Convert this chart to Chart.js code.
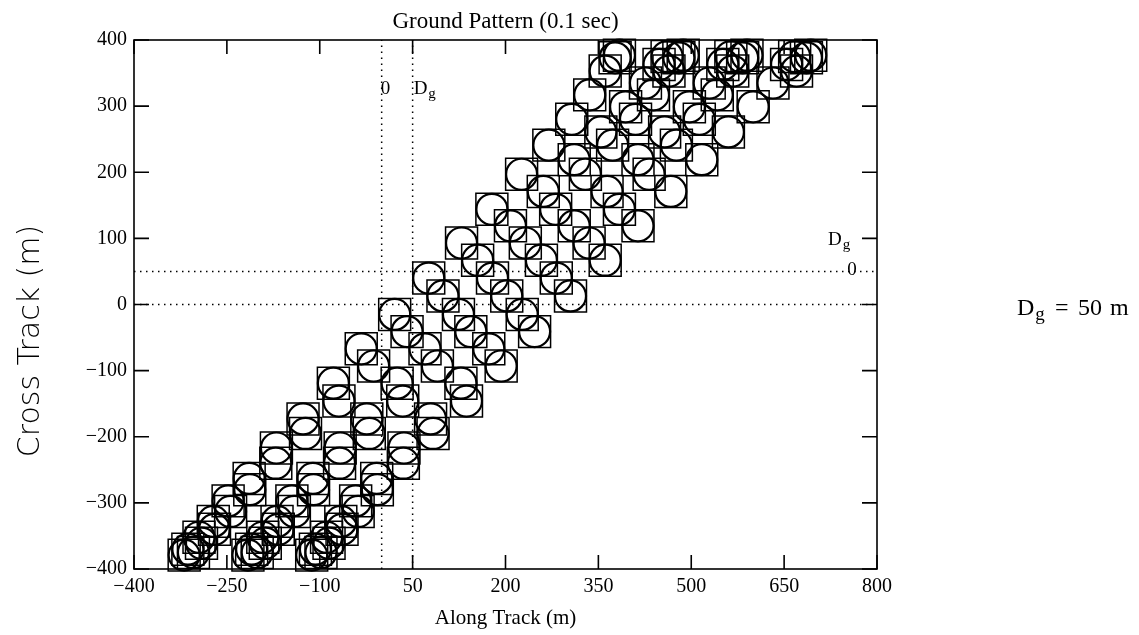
<!DOCTYPE html>
<html>
<head>
<meta charset="utf-8">
<title>Ground Pattern (0.1 sec)</title>
<script src="https://cdn.jsdelivr.net/npm/chart.js@4.4.0/dist/chart.umd.min.js"></script>
<style>
  html, body { margin: 0; padding: 0; background: #fff; }
  canvas { display: block; }
</style>
</head>
<body>
<canvas id="groundChart" width="1139" height="635"></canvas>
<script>
// footprint centres, metres
// main footprints of each scan line share the same cross-track rows
const rowY = [-379, -370, -352, -328, -297, -263, -217, -173, -119, -67, -15, 40, 93, 144, 197, 241, 280, 317, 353, 373, 377];
const line1X = [-319, -313, -295, -272, -248, -214, -170, -127, -78, -33, 21, 76, 129, 178, 226, 270, 307, 336, 361, 377, 384];
const line2X = [-216, -210, -192, -169, -145, -111, -67, -24, 25, 70, 124, 179, 232, 281, 329, 373, 410, 439, 464, 480, 487];
const line3X = [-113, -107, -89, -66, -42, -8, 36, 79, 128, 173, 227, 282, 335, 384, 432, 476, 513, 542, 567, 583, 590];

// offset (second) footprints sit half a row lower
const secY = [-375, -361, -340, -313, -280, -240, -195, -146, -93, -41, 13, 67, 119, 171, 219, 261, 299, 335, 363, 375];
const line1SecX = [-304, -291, -270, -244, -213, -171, -123, -69, -13, 41, 99, 155, 208, 261, 311, 354, 394, 426, 448, 461];
const line2SecX = [-201, -188, -167, -141, -110, -68, -20, 34, 90, 144, 202, 258, 311, 364, 414, 457, 497, 529, 551, 564];
const line3SecX = [-98, -85, -64, -38, -7, 35, 83, 137, 193, 247, 305, 361, 414, 467, 517, 560, 600, 632, 654, 667];

// last scan line, only its top end is inside the 0.1 s window
const line4X = [670, 686, 693];
const line4Y = [353, 373, 377];

const xTicks = [-400, -250, -100, 50, 200, 350, 500, 650, 800];
const yTicks = [-400, -300, -200, -100, 0, 100, 200, 300, 400];
const markX = [0, 50];
const markY = [0, 50];

const SERIF = 'Liberation Serif, Times New Roman, serif';

function pairUp(xs, ys) {
  return xs.map((x, i) => ({ x: x, y: ys[i] }));
}

function minusLabel(v) {
  return v < 0 ? '\u2212' + Math.abs(v) : String(v);
}

const footprints = [].concat(
  pairUp(line1X, rowY),
  pairUp(line2X, rowY),
  pairUp(line3X, rowY),
  pairUp(line1SecX, secY),
  pairUp(line2SecX, secY),
  pairUp(line3SecX, secY),
  pairUp(line4X, line4Y)
);

function dottedLine(points) {
  return {
    data: points,
    showLine: true,
    borderColor: '#000',
    borderWidth: 1.5,
    borderDash: [1.5, 4.5],
    pointRadius: 0,
    fill: false
  };
}

function drawDg(ctx, x, y, size) {
  ctx.font = size + 'px ' + SERIF;
  ctx.fillText('D', x, y);
  const w = ctx.measureText('D').width;
  ctx.font = Math.round(size * 0.8) + 'px ' + SERIF;
  ctx.fillText('g', x + w + 1, y + size * 0.22);
}

const decorations = {
  id: 'decorations',
  afterDatasetsDraw(chart) {
    const { ctx, chartArea: a, scales } = chart;
    const xs = scales.x, ys = scales.y;
    ctx.save();
    ctx.strokeStyle = '#000';
    ctx.fillStyle = '#000';
    ctx.lineWidth = 1.6;
    ctx.strokeRect(a.left, a.top, a.right - a.left, a.bottom - a.top);

    // inward tick marks on all four sides
    ctx.beginPath();
    xTicks.forEach(v => {
      const px = xs.getPixelForValue(v);
      ctx.moveTo(px, a.top); ctx.lineTo(px, a.top + 14);
      ctx.moveTo(px, a.bottom); ctx.lineTo(px, a.bottom - 14);
    });
    yTicks.forEach(v => {
      const py = ys.getPixelForValue(v);
      ctx.moveTo(a.left, py); ctx.lineTo(a.left + 15, py);
      ctx.moveTo(a.right, py); ctx.lineTo(a.right - 15, py);
    });
    ctx.stroke();

    // labels of the dotted reference lines
    ctx.textAlign = 'left';
    ctx.textBaseline = 'alphabetic';
    ctx.font = '19px ' + SERIF;
    ctx.fillText('0', xs.getPixelForValue(0) - 1, ys.getPixelForValue(318));
    drawDg(ctx, xs.getPixelForValue(50) + 1, ys.getPixelForValue(318), 19);
    drawDg(ctx, xs.getPixelForValue(721), ys.getPixelForValue(90), 19);
    ctx.font = '19px ' + SERIF;
    ctx.fillText('0', xs.getPixelForValue(752), ys.getPixelForValue(44));

    // title
    ctx.textAlign = 'center';
    ctx.font = '23px ' + SERIF;
    ctx.fillText('Ground Pattern (0.1 sec)', (a.left + a.right) / 2, 28);

    // note on the right
    ctx.textAlign = 'left';
    drawDg(ctx, 1017, 315, 24);
    ctx.font = '24px ' + SERIF;
    ctx.fillText('=', 1055, 315);
    ctx.fillText('50', 1078, 315);
    ctx.fillText('m', 1110, 315);

    // cross track title
    ctx.translate(31, 341);
    ctx.rotate(-Math.PI / 2);
    ctx.textAlign = 'center';
    ctx.textBaseline = 'middle';
    ctx.font = '300 30px DejaVu Sans, sans-serif';
    ctx.fillText('Cross Track (m)', 0, 0);
    ctx.restore();
  }
};

document.addEventListener('DOMContentLoaded', () => {
  const ctx = document.getElementById('groundChart').getContext('2d');

  const datasets = [];
  markX.forEach(v => datasets.push(dottedLine([{ x: v, y: -400 }, { x: v, y: 400 }])));
  markY.forEach(v => datasets.push(dottedLine([{ x: -400, y: v }, { x: 800, y: v }])));
  datasets.push({
    data: footprints,
    pointStyle: 'circle',
    pointRadius: 15.5,
    pointBorderWidth: 2.2,
    pointBorderColor: '#000',
    pointBackgroundColor: 'rgba(0,0,0,0)',
    clip: false
  });
  datasets.push({
    data: footprints,
    pointStyle: 'rect',
    pointRadius: 22.6,
    pointBorderWidth: 1.5,
    pointBorderColor: '#000',
    pointBackgroundColor: 'rgba(0,0,0,0)',
    clip: false
  });

  new Chart(ctx, {
    type: 'scatter',
    data: { datasets: datasets },
    options: {
      responsive: false,
      animation: false,
      events: [],
      layout: { padding: { top: 40, right: 262, bottom: 0, left: 0 } },
      plugins: {
        legend: { display: false },
        tooltip: { enabled: false },
        title: { display: false }
      },
      scales: {
        x: {
          type: 'linear',
          min: -400,
          max: 800,
          afterBuildTicks: s => { s.ticks = xTicks.map(v => ({ value: v })); },
          afterFit: s => { s.height = 66; },
          grid: { display: false, drawTicks: false },
          border: { display: false },
          ticks: {
            color: '#000',
            font: { family: SERIF, size: 20 },
            padding: 6,
            maxRotation: 0,
            autoSkip: false,
            callback: minusLabel
          },
          title: {
            display: true,
            text: 'Along Track (m)',
            color: '#000',
            font: { family: SERIF, size: 21 },
            padding: { top: 0, bottom: 4 }
          }
        },
        y: {
          type: 'linear',
          min: -400,
          max: 400,
          afterBuildTicks: s => { s.ticks = yTicks.map(v => ({ value: v })); },
          afterFit: s => { s.width = 134; },
          grid: { display: false, drawTicks: false },
          border: { display: false },
          ticks: {
            color: '#000',
            font: { family: SERIF, size: 20 },
            padding: 7,
            autoSkip: false,
            callback: minusLabel
          }
        }
      }
    },
    plugins: [decorations]
  });
});
</script>
</body>
</html>
